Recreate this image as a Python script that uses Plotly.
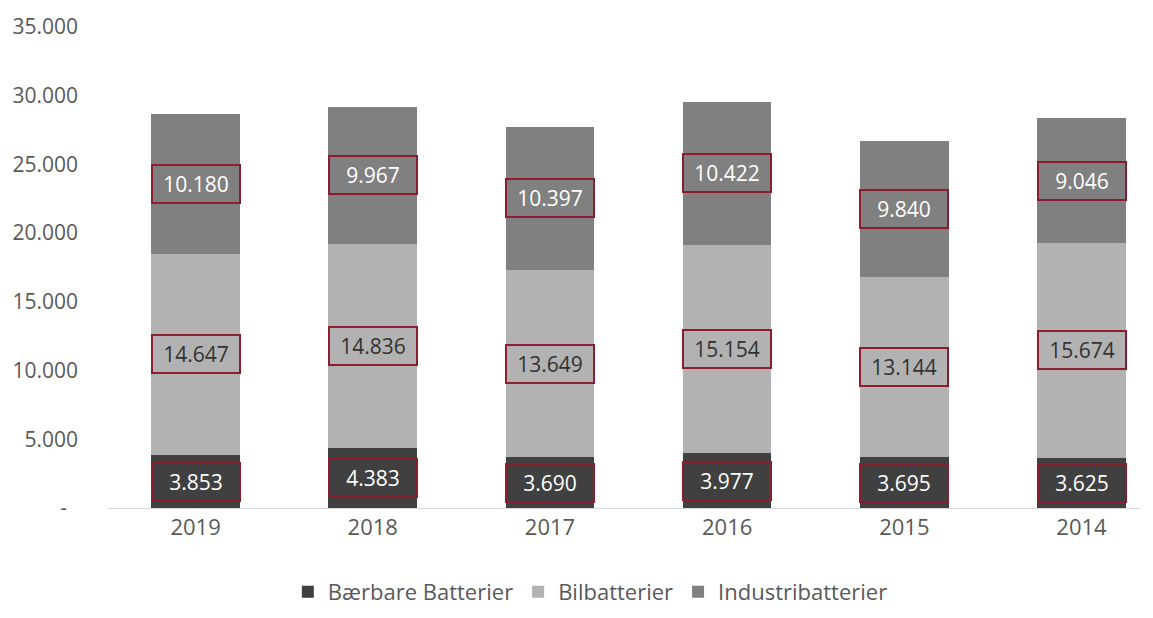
import plotly.graph_objects as go

years = ["2019", "2018", "2017", "2016", "2015", "2014"]
baerbare = [3853, 4383, 3690, 3977, 3695, 3625]
bil = [14647, 14836, 13649, 15154, 13144, 15674]
industri = [10180, 9967, 10397, 10422, 9840, 9046]

series = [
    ("Bærbare Batterier", baerbare, "#404040", "#ffffff"),
    ("Bilbatterier", bil, "#b2b2b2", "#333333"),
    ("Industribatterier", industri, "#808080", "#ffffff"),
]

def fmt(v):
    return f"{v:,}".replace(",", ".")

fig = go.Figure()
for name, vals, col, _ in series:
    fig.add_trace(go.Bar(x=years, y=vals, name=name, marker=dict(color=col, line=dict(width=0))))

annotations = []
base = [0] * len(years)
for name, vals, col, tcol in series:
    for i, v in enumerate(vals):
        annotations.append(dict(
            x=i, y=base[i] + v / 2, xref="x", yref="y",
            text=fmt(v), showarrow=False,
            font=dict(family="Open Sans", size=21, color=tcol),
            bordercolor="#8b1e2e", borderwidth=2, borderpad=3,
            width=80, height=30,
        ))
        base[i] += v

ytick_vals = [0, 5000, 10000, 15000, 20000, 25000, 30000, 35000]
ytick_text = ["-\u00a0\u00a0"] + [fmt(v) for v in ytick_vals[1:]]

fig.update_layout(
    width=1153, height=618,
    barmode="stack", bargap=0.5,
    plot_bgcolor="white", paper_bgcolor="white",
    margin=dict(l=106, r=13, t=24, b=110),
    font=dict(family="Open Sans", size=21, color="#595959"),
    annotations=annotations,
    showlegend=True,
    legend=dict(orientation="h", xref="container", yref="container",
                x=0.512, y=0.042, xanchor="center", yanchor="middle",
                font=dict(size=22, color="#595959"), traceorder="normal"),
    xaxis=dict(type="category", range=[-0.5, 5.33], showgrid=False, showline=True,
               linecolor="#d9d9d9", linewidth=1, ticks="", tickfont=dict(size=22)),
    yaxis=dict(range=[0, 35000], tickvals=ytick_vals, ticktext=ytick_text,
               showgrid=False, zeroline=False, showline=False, ticks="",
               ticklabelstandoff=28, tickfont=dict(size=21)),
)

fig.write_html("out.html", config={"displayModeBar": False},
               post_script="document.body.style.margin='0';")
